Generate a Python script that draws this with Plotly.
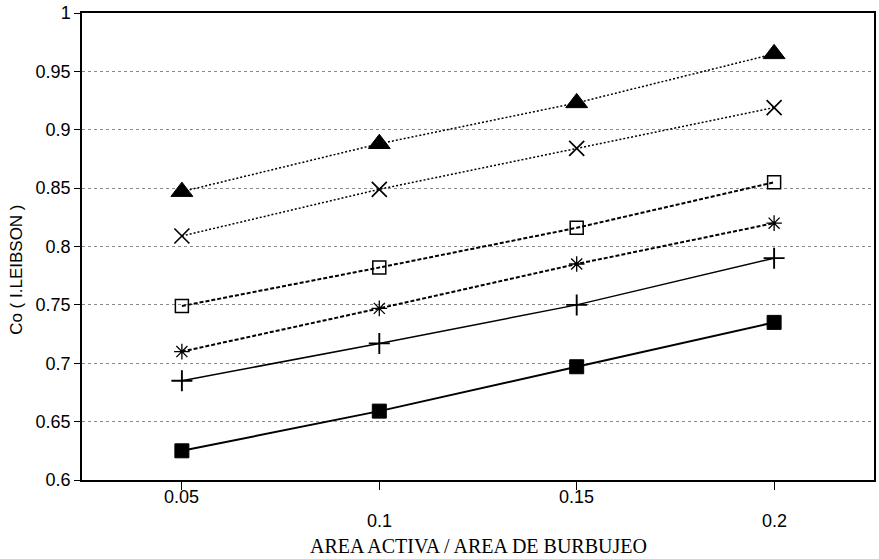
import plotly.graph_objects as go

# Active area / bubbling area ratio
area_ratio = [0.05, 0.1, 0.15, 0.2]

# Co (I. Leibson) for each series
co_triangle = [0.847, 0.888, 0.923, 0.965]
co_x = [0.809, 0.849, 0.884, 0.919]
co_open_square = [0.749, 0.782, 0.816, 0.855]
co_asterisk = [0.710, 0.747, 0.785, 0.820]
co_plus = [0.685, 0.717, 0.750, 0.790]
co_filled_square = [0.625, 0.659, 0.697, 0.735]

x_tick_vals = [0.05, 0.1, 0.15, 0.2]
x_tick_text = ["0.05", "0.1", "0.15", "0.2"]
y_tick_vals = [0.6, 0.65, 0.7, 0.75, 0.8, 0.85, 0.9, 0.95, 1.0]
y_tick_text = ["0.6", "0.65", "0.7", "0.75", "0.8", "0.85", "0.9", "0.95", "1"]

x_title = "AREA ACTIVA / AREA DE BURBUJEO"
y_title = "Co ( I.LEIBSON )"

series = [
    (co_triangle, "triangle-up", 19, "2px,2px", 1.5, 1),
    (co_x, "x-thin-open", 15, "2px,2px", 1.5, 1.7),
    (co_open_square, "square-open", 13, "4px,2px", 2.0, 1.5),
    (co_asterisk, "asterisk-open", 13, "4px,2px", 2.0, 1.3),
    (co_plus, "cross-thin-open", 15, "solid", 1.5, 1.9),
    (co_filled_square, "square", 14, "solid", 2.0, 1),
]

fig = go.Figure()
for values, symbol, size, dash, lw, mlw in series:
    fig.add_trace(go.Scatter(
        x=area_ratio, y=values, mode="lines+markers",
        line=dict(color="black", width=lw, dash=dash),
        marker=dict(symbol=symbol, size=size, color="black",
                    line=dict(color="black", width=mlw)),
        showlegend=False,
    ))

sans = "Liberation Sans, Arial, sans-serif"
serif = "Liberation Serif, Times New Roman, serif"

# Staggered x tick labels: alternate rows
for i, (v, t) in enumerate(zip(x_tick_vals, x_tick_text)):
    fig.add_annotation(
        x=v, xref="x", y=0, yref="paper", text=t, showarrow=False,
        xanchor="center", yanchor="middle",
        yshift=-17 if i % 2 == 0 else -41,
        font=dict(family=sans, size=18, color="black"),
    )

fig.add_annotation(
    x=0.5, xref="paper", y=0, yref="paper", text=x_title, showarrow=False,
    xanchor="center", yanchor="middle", yshift=-66,
    font=dict(family=serif, size=20, color="black"),
)
fig.add_annotation(
    x=0, xref="paper", y=0.45, yref="paper", text=y_title, showarrow=False,
    xanchor="center", yanchor="middle", xshift=-65, textangle=-90,
    font=dict(family=sans, size=17, color="black"),
)

fig.update_layout(
    width=879, height=559,
    margin=dict(l=82, r=3, t=13, b=79),
    paper_bgcolor="white", plot_bgcolor="white",
    font=dict(family=sans, color="black", size=18),
)
fig.update_xaxes(
    range=[0.0247, 0.2253],
    tickvals=x_tick_vals, showticklabels=False,
    ticks="outside", ticklen=8, tickwidth=1.2, tickcolor="black",
    showline=True, linecolor="black", linewidth=1.5, mirror=True,
    showgrid=False, zeroline=False,
)
fig.update_yaxes(
    range=[0.6, 1.0],
    tickvals=y_tick_vals, ticktext=y_tick_text,
    ticks="outside", ticklen=6, tickwidth=1.2, tickcolor="black",
    tickfont=dict(family=sans, size=18, color="black"),
    showline=True, linecolor="black", linewidth=1.5, mirror=True,
    showgrid=True, gridcolor="#8a8a8a", gridwidth=1, griddash="dot",
    zeroline=False,
)

fig.write_html("out.html")
